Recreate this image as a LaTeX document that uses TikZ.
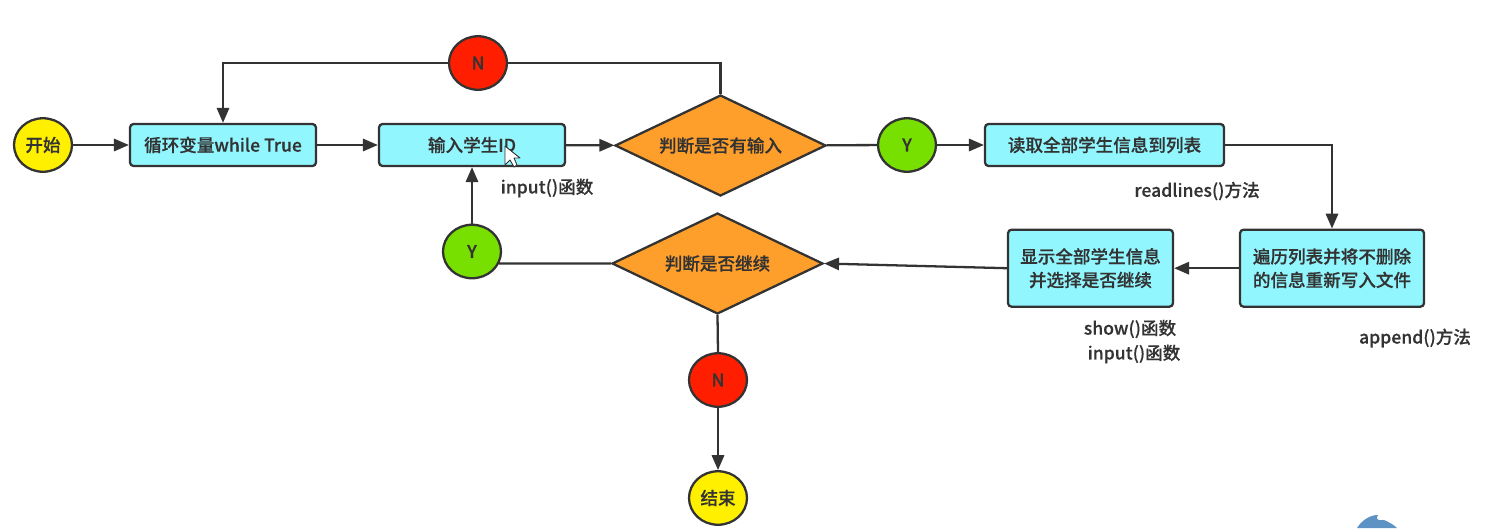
\documentclass[tikz,border=0pt]{standalone}
\usepackage{fontspec}
\setmainfont{Noto Sans CJK SC Medium}[FakeBold=0.4]
\usetikzlibrary{arrows.meta,shapes.geometric}

\definecolor{linegray}{HTML}{333333}
\definecolor{boxcyan}{HTML}{92F6FF}
\definecolor{diaorange}{HTML}{FF9F2B}
\definecolor{nodered}{HTML}{FF1F00}
\definecolor{nodegreen}{HTML}{78E000}
\definecolor{nodeyellow}{HTML}{FFF000}
\definecolor{logoblue}{HTML}{5C93C4}

\tikzset{
  base/.style={draw=linegray,line width=1.3pt,text=linegray,font=\fontsize{10}{13.4}\selectfont,align=center,inner sep=0pt},
  procbox/.style={base,rectangle,rounded corners=2pt,fill=boxcyan},
  decision/.style={base,diamond,fill=diaorange,shape aspect=3,minimum width=4.22cm,minimum height=2.02cm},
  flag/.style={base,ellipse,minimum width=1.16cm,minimum height=1.07cm},
  note/.style={text=linegray,font=\fontsize{10}{13.4}\selectfont,inner sep=0pt},
  line/.style={draw=linegray,line width=1.3pt},
  arrow/.style={line,-{Triangle[length=8.5pt,width=7pt]}}
}

\begin{document}
\begin{tikzpicture}[x=0.02cm,y=-0.02cm]

\useasboundingbox (0,0) rectangle (1491,528) ;

% top row
\node[flag,fill=nodeyellow] (start) at (43,145) {开始} ;
\node[procbox,minimum width=3.72cm,minimum height=0.84cm] (loop) at (223,145) {循环变量while True} ;
\node[procbox,minimum width=3.72cm,minimum height=0.84cm] (inputid) at (472,145) {输入学生ID} ;
\node[decision] (hasinput) at (720.5,145.5) {判断是否有输入} ;
\node[flag,fill=nodered] (noinput) at (478,63) {N} ;
\node[flag,fill=nodegreen] (yesinput) at (907,145) {Y} ;
\node[procbox,minimum width=4.78cm,minimum height=0.84cm] (readall) at (1104.5,145) {读取全部学生信息到列表} ;

% lower row
\node[procbox,minimum width=3.68cm,minimum height=1.54cm] (rewrite) at (1332,268.2) {遍历列表并将不删除\\的信息重新写入文件} ;
\node[procbox,minimum width=3.3cm,minimum height=1.54cm] (showall) at (1090.5,268.2) {显示全部学生信息\\并选择是否继续} ;
\node[decision] (goon) at (717.5,263.5) {判断是否继续} ;
\node[flag,fill=nodegreen] (yesgoon) at (472,251.5) {Y} ;
\node[flag,fill=nodered] (nogoon) at (718,380) {N} ;
\node[flag,fill=nodeyellow] (stop) at (718,498) {结束} ;

% function names
\node[note] (noteinput) at (547,188) {input()函数} ;
\node[note] (notereadlines) at (1197,191) {readlines()方法} ;
\node[note] (noteshow) at (1130,329) {show()函数} ;
\node[note] (noteinputb) at (1134,354) {input()函数} ;
\node[note] (noteappend) at (1415,338) {append()方法} ;

\draw[arrow] (start) -- (loop) ;
\draw[arrow] (loop) -- (inputid) ;
\draw[arrow] (inputid) -- (hasinput) ;
\draw[line] (hasinput.north) |- (noinput.east) ;
\draw[arrow] (noinput.west) -| (loop.north) ;
\draw[line] (hasinput) -- (yesinput) ;
\draw[arrow] (yesinput) -- (readall) ;
\draw[arrow] (readall.east) -| (rewrite.north) ;
\draw[arrow] (rewrite) -- (showall) ;
\draw[arrow] (showall.west) -- (goon.east) ;
\draw[line] (goon.west) -- (yesgoon.-24) ;
\draw[arrow] (yesgoon) -- (inputid) ;
\draw[line] (goon.south) -- (nogoon.north) ;
\draw[arrow] (nogoon) -- (stop) ;

% mouse pointer
\draw[fill=white,draw=linegray,line width=0.5pt,line join=round] (505,146) -- (505,165) -- (510,160) -- (514,167) -- (517,165) -- (514,158) -- (520,158) -- cycle ;

% corner mark
\fill[logoblue] (1357,528) .. controls (1362,520) and (1370,515) .. (1378,515) .. controls (1375,519) and (1378,521) .. (1384,520) .. controls (1389,522) and (1394,525) .. (1397,528) -- cycle ;

\end{tikzpicture}
\end{document}
